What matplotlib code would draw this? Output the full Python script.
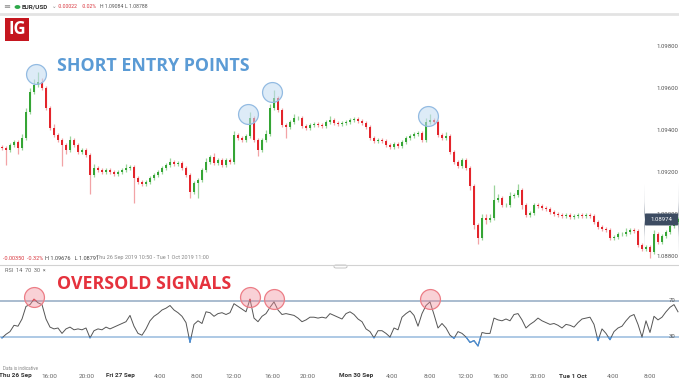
import numpy as np
import matplotlib
matplotlib.use("Agg")
import matplotlib.pyplot as plt
from matplotlib.patches import Rectangle, FancyBboxPatch
import matplotlib.transforms as mtrans

# ---------------- data ----------------
first_open = 1.09320
closes = [
    1.09314, 1.09305, 1.09329, 1.09343, 1.09314, 1.09362, 1.09486, 1.09581, 1.09614, 1.09628,
    1.09600, 1.09505, 1.09410, 1.09376, 1.09352, 1.09329, 1.09305, 1.09352, 1.09329, 1.09295,
    1.09305, 1.09281, 1.09186, 1.09219, 1.09210, 1.09200, 1.09210, 1.09200, 1.09191, 1.09200,
    1.09210, 1.09219, 1.09224, 1.09172, 1.09152, 1.09143, 1.09152, 1.09172, 1.09186, 1.09200,
    1.09219, 1.09233, 1.09248, 1.09238, 1.09243, 1.09219, 1.09186, 1.09105, 1.09148, 1.09162,
    1.09210, 1.09248, 1.09271, 1.09243, 1.09257, 1.09233, 1.09257, 1.09248, 1.09376, 1.09362,
    1.09352, 1.09371, 1.09457, 1.09352, 1.09305, 1.09352, 1.09381, 1.09505, 1.09552, 1.09495,
    1.09424, 1.09414, 1.09438, 1.09457, 1.09457, 1.09419, 1.09410, 1.09424, 1.09429, 1.09424,
    1.09419, 1.09438, 1.09448, 1.09433, 1.09429, 1.09433, 1.09438, 1.09448, 1.09452, 1.09443,
    1.09433, 1.09414, 1.09362, 1.09348, 1.09352, 1.09348, 1.09329, 1.09319, 1.09333, 1.09324,
    1.09343, 1.09362, 1.09371, 1.09381, 1.09386, 1.09352, 1.09438, 1.09448, 1.09438, 1.09376,
    1.09362, 1.09371, 1.09295, 1.09248, 1.09229, 1.09257, 1.09219, 1.09133, 1.08948, 1.08886,
    1.08981, 1.08972, 1.08981, 1.09067, 1.09076, 1.09043, 1.09043, 1.09086, 1.09091, 1.09114,
    1.09043, 1.08995, 1.09005, 1.09043, 1.09038, 1.09029, 1.09024, 1.09010, 1.09000, 1.08995,
    1.08991, 1.08995, 1.08986, 1.08991, 1.08995, 1.08991, 1.08995, 1.08991, 1.08962, 1.08938,
    1.08929, 1.08924, 1.08886, 1.08891, 1.08905, 1.08905, 1.08914, 1.08924, 1.08919, 1.08853,
    1.08834, 1.08843, 1.08819, 1.08905, 1.08867, 1.08895, 1.08914, 1.08943, 1.08962, 1.08974,
]
# wick lengths beyond the body, in pips
up_wick = [
    1, 1, 1, 1, 1, 2, 2, 2, 3, 5,
    2, 1, 1, 2, 1, 1, 1, 2, 1, 1,
    1, 1, 1, 2, 1, 1, 1, 1, 1, 1,
    1, 2, 1, 1, 1, 1, 1, 1, 1, 1,
    1, 1, 2, 1, 1, 1, 1, 1, 1, 1,
    1, 2, 1, 2, 1, 1, 1, 1, 2, 1,
    1, 1, 3, 1, 1, 1, 2, 2, 4, 1,
    1, 1, 1, 2, 1, 1, 1, 1, 1, 1,
    1, 1, 2, 1, 1, 1, 1, 1, 1, 1,
    1, 1, 1, 1, 1, 1, 1, 1, 1, 1,
    1, 1, 1, 1, 1, 1, 2, 3, 1, 1,
    1, 2, 1, 1, 1, 1, 1, 1, 1, 1,
    2, 2, 2, 7, 2, 1, 1, 2, 1, 3,
    1, 1, 1, 1, 1, 1, 1, 1, 1, 1,
    1, 1, 1, 1, 1, 1, 1, 1, 1, 1,
    1, 1, 1, 1, 1, 1, 2, 1, 1, 1,
    1, 1, 1, 2, 1, 1, 1, 2, 2, 1,
]
down_wick = [
    1, 7, 1, 1, 3, 1, 1, 1, 1, 1,
    1, 1, 1, 1, 1, 10, 2, 1, 1, 1,
    1, 1, 9, 1, 1, 1, 1, 1, 1, 1,
    1, 1, 1, 12, 1, 1, 1, 1, 1, 1,
    1, 1, 1, 1, 1, 1, 1, 3, 1, 7,
    1, 1, 1, 1, 1, 1, 1, 1, 1, 1,
    1, 1, 1, 1, 3, 1, 1, 1, 1, 1,
    1, 5, 1, 1, 1, 1, 1, 1, 1, 1,
    1, 1, 1, 1, 1, 1, 1, 1, 1, 1,
    1, 1, 1, 1, 1, 1, 1, 1, 1, 1,
    1, 1, 1, 1, 1, 1, 1, 1, 1, 1,
    1, 1, 1, 1, 1, 1, 1, 2, 2, 3,
    1, 2, 1, 1, 1, 1, 1, 1, 1, 1,
    2, 1, 1, 1, 1, 1, 1, 1, 1, 1,
    1, 1, 1, 1, 1, 1, 1, 1, 1, 1,
    1, 1, 1, 1, 1, 1, 1, 1, 1, 1,
    1, 1, 3, 1, 1, 1, 1, 1, 1, 1,
]
rsi = [
    29, 33, 36, 43, 42, 50, 64, 66, 72, 68,
    66, 50, 41, 39, 40, 34, 39, 41, 38, 39,
    38, 40, 29, 37, 39, 38, 41, 39, 41, 43,
    45, 47, 54, 42, 34, 32, 39, 48, 53, 56,
    60, 62, 65, 60, 57, 53, 46, 24, 44, 48,
    45, 58, 57, 53, 56, 57, 55, 57, 67, 64,
    61, 58, 72, 51, 47, 53, 56, 63, 69, 60,
    55, 56, 55, 54, 51, 47, 49, 52, 52, 51,
    52, 51, 56, 54, 52, 50, 56, 58, 55, 50,
    47, 39, 36, 29, 37, 37, 34, 30, 40, 38,
    52, 56, 59, 54, 42, 56, 65, 69, 55, 40,
    45, 40, 32, 28.5, 36, 34, 30, 24, 26, 20,
    35, 34, 34, 51, 49, 48, 50, 48, 55, 56,
    49, 40, 44, 47, 51, 48, 46, 44, 45, 43,
    40, 44, 43, 41, 46, 50, 51, 52, 44, 26,
    39, 34, 27, 36, 40, 42, 48, 53, 55, 44,
    30, 48, 35, 53, 49, 52, 58, 63, 66, 58,
]
signal_idx = [9, 62, 68, 107]
rsi_signal_idx = [8, 62, 68, 107]
price_ticks = [1.08800, 1.09000, 1.09200, 1.09400, 1.09600, 1.09800]
last_price = 1.08974
time_labels = ["Thu 26 Sep", "16:00", "20:00", "Fri 27 Sep", "4:00", "8:00", "12:00", "16:00",
               "20:00", "Mon 30 Sep", "4:00", "8:00", "12:00", "16:00", "20:00", "Tue 1 Oct",
               "4:00", "8:00"]
time_label_idx = [3.3, 11.8, 21.3, 29.5, 39.5, 48.8, 57.8, 67.5, 76.5, 88.5,
                  97.5, 107.0, 115.8, 124.5, 134.0, 142.8, 152.8, 162.0]

# ---------------- figure ----------------
W, H = 679, 380
fig = plt.figure(figsize=(W / 100, H / 100), dpi=100)
fig.patch.set_facecolor("white")


def fx(px):
    return px / W


def fy(py):
    return 1 - py / H


SMALL = "Roboto"

n = len(closes)
idx = np.arange(n)
closes_a = np.array(closes)
opens_a = np.array([first_open] + closes[:-1])
top = np.maximum(opens_a, closes_a)
bot = np.minimum(opens_a, closes_a)
highs = top + np.array(up_wick) * 1e-4
lows = bot - np.array(down_wick) * 1e-4
bull = closes_a >= opens_a

GREEN = "#35a535"
RED = "#e3242b"
GREEN_W = "#9bd49b"
RED_W = "#f2a3a6"

# price panel: px rows 14..265
ax = fig.add_axes([0, fy(265), 1, (265 - 14) / H])
ppx = 0.001 / 21.0  # price per pixel
ax.set_ylim(1.088 - 9 * ppx, 1.088 + 242 * ppx)
ax.set_xlim(-0.5, 169.25)
ax.axis("off")

ax.vlines(idx, lows, highs, colors=np.where(bull, GREEN_W, RED_W), lw=0.9, zorder=2)
heights = np.maximum(top - bot, 0.00002)
ax.bar(idx, heights, bottom=bot, width=0.72, color=np.where(bull, GREEN, RED), lw=0, zorder=3)

for i in signal_idx:
    ax.scatter([i - 0.4], [highs[i] - 0.00012], s=205, facecolor=(0.76, 0.86, 0.95, 0.55),
               edgecolor="#93bbe2", lw=0.9, zorder=6)

for p in price_ticks:
    ax.text(fx(656), p, f"{p:.5f}", transform=ax.get_yaxis_transform(), fontsize=4.3,
            color="#555555", va="center", ha="left", family=SMALL, zorder=7)

tag = FancyBboxPatch((fx(644), last_price - 6 * ppx), fx(679) - fx(644), 12 * ppx,
                     boxstyle="round,pad=0,rounding_size=0.002",
                     transform=ax.get_yaxis_transform(), facecolor="#3d4c62", edgecolor="none", zorder=8)
ax.add_patch(tag)
ax.text(fx(661.5), last_price, f"{last_price:.5f}", transform=ax.get_yaxis_transform(), fontsize=4.3,
        color="white", va="center", ha="center", family=SMALL, zorder=9)

# RSI panel: px rows 266..356
ax2 = fig.add_axes([0, fy(356), 1, (356 - 266) / H])
ax2.set_xlim(-0.5, 169.25)
ax2.set_ylim(30 - 19 / 0.9, 70 + 35 / 0.9)
ax2.axis("off")
ax2.axhline(70, color="#a3b6cb", lw=1.3, zorder=1)
ax2.axhline(30, color="#a7c5e3", lw=1.3, zorder=1)
ax2.plot(idx, rsi, color="#555555", lw=0.7, zorder=3)
hi_line, = ax2.plot(idx, rsi, color="#e0303a", lw=0.8, zorder=4)
hi_line.set_clip_path(Rectangle((-1, 70), 200, 60, transform=ax2.transData))
lo_line, = ax2.plot(idx, rsi, color="#4a90d9", lw=0.9, zorder=4)
lo_line.set_clip_path(Rectangle((-1, -20), 200, 50, transform=ax2.transData))
for i in rsi_signal_idx:
    ax2.scatter([i], [rsi[i] + 3], s=205, facecolor=(0.95, 0.55, 0.6, 0.4),
                edgecolor="#ec7d86", lw=0.9, zorder=6)
ax2.text(fx(669), 70, "70", transform=ax2.get_yaxis_transform(), fontsize=4.3, color="#555555",
         va="center", ha="left", family=SMALL)
ax2.text(fx(669), 30, "30", transform=ax2.get_yaxis_transform(), fontsize=4.3, color="#555555",
         va="center", ha="left", family=SMALL)

# x labels at pixel row 376
xlab_tr = mtrans.blended_transform_factory(ax2.transData, fig.transFigure)
for lab, pos in zip(time_labels, time_label_idx):
    day = not lab[0].isdigit()
    fig.text(pos, fy(376), lab, transform=xlab_tr, fontsize=4.6,
             color="#333333" if day else "#666666", fontweight="bold" if day else "normal",
             ha="center", va="center", family=SMALL)

# ---------------- decorations ----------------
fig.add_artist(plt.Line2D([0, 1], [fy(14), fy(14)], color="#e3e3e3", lw=2))
fig.add_artist(plt.Line2D([0, 1], [fy(265), fy(265)], color="#d2d2d2", lw=0.8))
fig.add_artist(FancyBboxPatch((fx(334), fy(268)), fx(13), 3 / H, boxstyle="round,pad=0,rounding_size=0.003",
                              transform=fig.transFigure, facecolor="white", edgecolor="#bbbbbb", lw=0.6))

# header
fig.text(fx(3), fy(7), "≡", fontsize=6, color="#888888", va="center", ha="left", family="DejaVu Sans")
fig.add_artist(plt.Circle((fx(17.5), fy(7)), 2.2 / W, transform=fig.transFigure, color="#2ea84a"))
fig.text(fx(22), fy(7), "EUR/USD", fontsize=4.6, fontweight="bold", color="#333333", va="center", family=SMALL)
fig.text(fx(52), fy(7), "⌄", fontsize=4.0, color="#888888", va="center", family="DejaVu Sans")
fig.text(fx(58), fy(7), "-0.00022", fontsize=3.7, color="#d9363e", va="center", family=SMALL)
fig.text(fx(82), fy(7), "-0.02%", fontsize=3.7, color="#d9363e", va="center", family=SMALL)
fig.text(fx(100), fy(7), "H 1.09084", fontsize=3.7, color="#555555", va="center", family=SMALL)
fig.text(fx(125), fy(7), "L 1.08788", fontsize=3.7, color="#555555", va="center", family=SMALL)

# IG logo
fig.add_artist(Rectangle((fx(5), fy(41)), fx(24), 23 / H, transform=fig.transFigure,
                         facecolor="#c5161f", edgecolor="none"))
fig.text(fx(17), fy(29.5), "IG", fontsize=12, fontweight="bold", color="white", ha="center", va="center",
         family="Open Sans")

# annotations
fig.text(fx(57), fy(66), "SHORT ENTRY POINTS", fontsize=12.8, fontweight="bold", color="#5b9bd5",
         va="center", ha="left", family="Open Sans")
fig.text(fx(57), fy(284), "OVERSOLD SIGNALS", fontsize=12.8, fontweight="bold", color="#e5323d",
         va="center", ha="left", family="Open Sans")

# panel info texts
fig.text(fx(3), fy(258), "-0.00350  -0.32%", fontsize=4.0, color="#d9363e", va="center", family=SMALL)
fig.text(fx(45), fy(258), "H 1.09676   L 1.08791", fontsize=4.0, color="#444444", va="center", family=SMALL)
fig.text(fx(96), fy(258), "Thu 26 Sep 2019 10:50 - Tue 1 Oct 2019 11:00", fontsize=4.0, color="#888888",
         va="center", family=SMALL)
fig.text(fx(5), fy(271), "RSI  14  70  30  ×", fontsize=4.0, color="#666666", va="center", family=SMALL)
fig.text(fx(3), fy(368), "Data is indicative", fontsize=3.3, color="#888888", va="center", family=SMALL)

fig.savefig("out.png", dpi=100, facecolor="white")
